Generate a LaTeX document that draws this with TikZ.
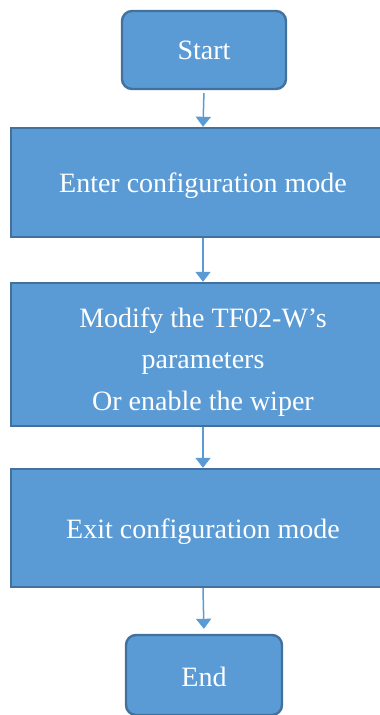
\documentclass[tikz,border=0pt]{standalone}
\usepackage{fontspec}
\setmainfont{Liberation Serif}
\usetikzlibrary{arrows.meta}
\definecolor{boxfill}{HTML}{5B9BD5}
\definecolor{boxline}{HTML}{41719C}
\tikzset{
  flowbox/.style={rectangle, draw=boxline, fill=boxfill, line width=2.4pt,
    inner sep=0pt, text=white, align=center,
    font=\fontsize{28}{41.5}\selectfont},
  termbox/.style={flowbox, rounded corners=10pt},
  flowarrow/.style={draw=boxfill, line width=1.5pt,
    -{Triangle[width=15pt,length=10pt]}}
}
% lower a block of text inside its box, keeping the box's extent
\newcommand{\lowered}[2]{\raisebox{-#1}[\height][\depth]{\begin{tabular}{@{}c@{}}#2\end{tabular}}}
\begin{document}
\begin{tikzpicture}[x=1pt,y=-1pt]
  \useasboundingbox (0,0) rectangle (380,715);
  \clip (0,0) rectangle (380,715);
  \fill[white] (0,0) rectangle (380,715);

  \node[termbox, minimum width=164pt, minimum height=78pt] (start) at (204,50) {Start};
  \node[flowbox, minimum width=384pt, minimum height=109pt] (enter) at (203,182.5)
    {\lowered{2pt}{Enter configuration mode}};
  \node[flowbox, minimum width=384pt, minimum height=143pt] (modify) at (203,354.5)
    {\lowered{6pt}{Modify the TF02-W’s\\parameters\\Or enable the wiper}};
  \node[flowbox, minimum width=384pt, minimum height=118pt] (exit) at (203,528)
    {\lowered{2pt}{Exit configuration mode}};
  \node[termbox, minimum width=156pt, minimum height=80pt] (end) at (204,675)
    {\lowered{3pt}{End}};

  \draw[flowarrow, shorten <=3pt] (start.south) -- (enter.north);
  \draw[flowarrow] (enter.south) -- (modify.north);
  \draw[flowarrow] (modify.south) -- (exit.north);
  \draw[flowarrow, shorten >=5pt] (exit.south) -- (end.north);
\end{tikzpicture}
\end{document}
